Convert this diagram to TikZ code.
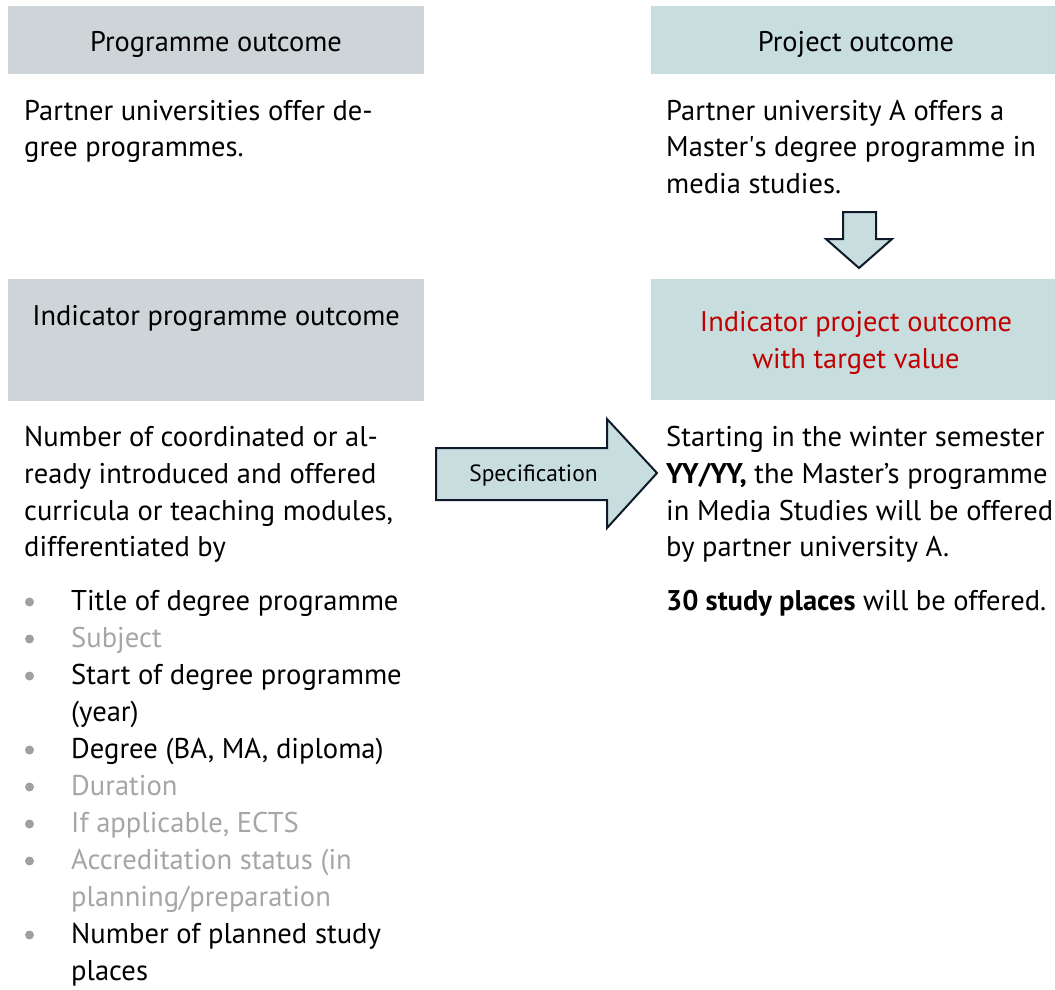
\documentclass[tikz,border=0pt]{standalone}
\usepackage{fontspec}
\setmainfont{PT Sans}
\definecolor{greyhd}{HTML}{CDD5D8}
\definecolor{tealhd}{HTML}{C8DEDE}
\definecolor{navy}{HTML}{0E1A2B}
\definecolor{redtx}{HTML}{C00000}
\definecolor{lighttx}{HTML}{A6A6A6}
\definecolor{dotc}{HTML}{A0A0A0}
\begin{document}
\begin{tikzpicture}[x=1pt,y=-1pt,
  box/.style={draw=none,anchor=north west,inner sep=0pt,outer sep=0pt},
  hdr/.style={font=\fontsize{28.4}{30}\selectfont,anchor=base,inner sep=0pt},
  body/.style={font=\fontsize{28.5}{36.7}\selectfont,anchor=base west,align=left,inner sep=0pt},
  item/.style={font=\fontsize{28.6}{37}\selectfont,anchor=base west,align=left,inner sep=0pt},
  dotb/.style={circle,fill=dotc,inner sep=0pt,minimum size=9pt},
  bigarrow/.style={draw=navy,line width=2pt,fill=tealhd,line join=miter}]
\useasboundingbox (0,0) rectangle (1055,989);
% boxes
\node[box,fill=greyhd,minimum width=416pt,minimum height=68pt] (pobox) at (8,6) {};
\node[box,fill=tealhd,minimum width=404pt,minimum height=68pt] (prbox) at (651,6) {};
\node[box,fill=greyhd,minimum width=416pt,minimum height=122pt] (ipobox) at (8,279) {};
\node[box,fill=tealhd,minimum width=404pt,minimum height=121pt] (iprbox) at (651,279) {};
% headers (base anchor = last line)
\node[hdr] (pohdr) at (216,51.7) {Programme outcome};
\node[hdr] (prhdr) at (856,51.7) {Project outcome};
\node[hdr] (ipohdr) at (216,325) {Indicator programme outcome};
\node[hdr,font=\fontsize{28.4}{36.6}\selectfont,align=center,text=redtx] (iprhdr) at (856,368.3) {Indicator project outcome\\with target value};
% texts
\node[body] (potext) at (24,156.7) {Partner universities offer de-\\gree programmes.};
\node[body] (prtext) at (666,193.4) {Partner university A offers a\\Master\textquotesingle s degree programme in\\media studies.};
\node[body] (ipotext) at (24,556.8) {Number of coordinated or al-\\ready introduced and offered\\curricula or teaching modules,\\differentiated by};
\node[body] (iprtext) at (666,556.8) {Starting in the winter semester\\\textbf{YY/YY,} the Master’s programme\\in Media Studies will be offered\\by partner university A.};
\node[body] (iprtext2) at (666,610) {\textbf{30 study places} will be offered.};
% bullets
\node[item] (b1) at (71,610) {Title of degree programme};
\node[item,text=lighttx] (b2) at (71,647) {Subject};
\node[item] (b3) at (71,721) {Start of degree programme\\(year)};
\node[item] (b4) at (71,758) {Degree (BA, MA, diploma)};
\node[item,text=lighttx] (b5) at (71,795) {Duration};
\node[item,text=lighttx] (b6) at (71,832) {If applicable, ECTS};
\node[item,text=lighttx] (b7) at (71,906) {Accreditation status (in\\planning/preparation};
\node[item] (b8) at (71,980) {Number of planned study\\places};
\foreach \n/\y in {1/602,2/639,3/676,4/750,5/787,6/824,7/861,8/935}
  \node[dotb] (d\n) at (29.5,\y) {};
% arrows
\draw[bigarrow] (843,212) -- (876,212) -- (876,239) -- (892,239) -- (859,268) -- (826,239) -- (843,239) -- cycle;
\draw[bigarrow] (436,448) -- (607,448) -- (607,419) -- (657,473) -- (607,528) -- (607,500) -- (436,500) -- cycle;
\node[hdr,font=\fontsize{23.5}{26}\selectfont] (spec) at (533.5,481.7) {Specification};
\end{tikzpicture}
\end{document}
